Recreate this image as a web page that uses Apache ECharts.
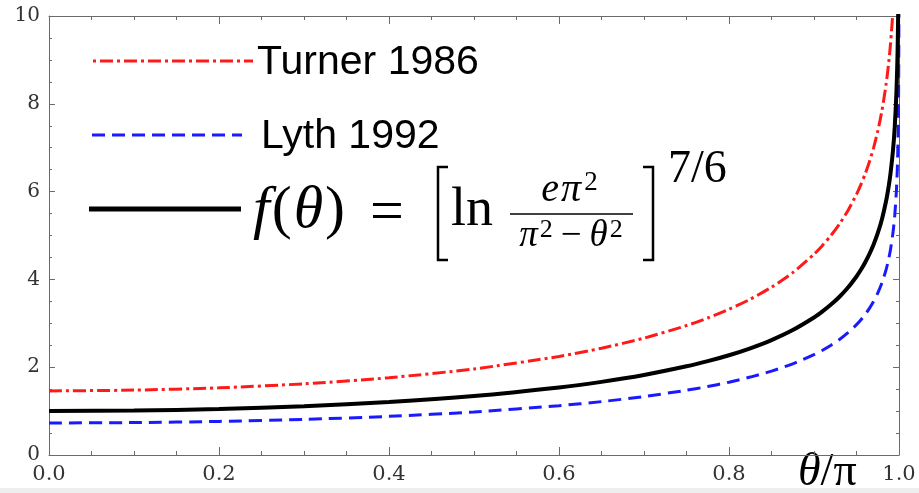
<!DOCTYPE html>
<html><head><meta charset="utf-8">
<script src="https://cdn.jsdelivr.net/npm/echarts@6/dist/echarts.min.js"></script>
<style>html,body{margin:0;padding:0;background:#fff}#c{width:919px;height:493px}</style>
</head><body><div id="c"></div>
<script>
// theta/pi sample positions
var xs = [0, 0.1, 0.2, 0.3, 0.4, 0.5, 0.6, 0.65, 0.7, 0.75, 0.775, 0.8, 0.825, 0.85, 0.875, 0.9, 0.91, 0.92, 0.93, 0.94, 0.95, 0.955, 0.96, 0.965, 0.97, 0.975, 0.98, 0.985, 0.988, 0.99, 0.993, 0.995, 0.997, 0.998, 0.9985, 0.999, 0.9995, 0.9998, 0.9999, 0.99995];
// f(theta) black solid
var fTheta = [1.00, 1.012, 1.048, 1.111, 1.206, 1.343, 1.538, 1.666, 1.823, 2.020, 2.138, 2.273, 2.431, 2.618, 2.846, 3.132, 3.270, 3.426, 3.605, 3.815, 4.067, 4.213, 4.379, 4.568, 4.789, 5.052, 5.378, 5.803, 6.137, 6.412, 6.955, 7.475, 8.274, 8.916, 9.376, 10.03, 11.16, 12.69, 13.86, 15.04];
// Turner 1986 red dash-dot
var turner = [1.46, 1.478, 1.530, 1.622, 1.761, 1.961, 2.245, 2.433, 2.662, 2.949, 3.121, 3.319, 3.549, 3.822, 4.155, 4.573, 4.774, 5.002, 5.264, 5.570, 5.938, 6.152, 6.393, 6.669, 6.992, 7.376, 7.852, 8.472, 8.961, 9.362, 10.15, 10.91, 12.08, 13.02, 13.69, 14.64, 16.29, 18.52, 20.24, 21.96];
// Lyth 1992 blue dashed
var lyth = [0.73, 0.739, 0.765, 0.811, 0.880, 0.980, 1.123, 1.216, 1.331, 1.475, 1.560, 1.659, 1.775, 1.911, 2.077, 2.286, 2.387, 2.501, 2.632, 2.785, 2.969, 3.076, 3.197, 3.335, 3.496, 3.688, 3.926, 4.236, 4.480, 4.681, 5.077, 5.457, 6.040, 6.509, 6.844, 7.322, 8.147, 9.260, 10.12, 10.98];
var xTicks = [0, 0.2, 0.4, 0.6, 0.8, 1.0];
var yTicks = [0, 2, 4, 6, 8, 10];

function pairs(ys){ return xs.map(function(x,i){ return [x, ys[i]]; }); }

var chart = echarts.init(document.getElementById('c'), null, {renderer:'canvas'});
var axisCol = '#6a6a6a';
function xAx(pos, labels){
  return {type:'value', position:pos, min:xTicks[0], max:xTicks[xTicks.length-1], interval:0.2,
    axisLine:{show:true, onZero:false, lineStyle:{color:axisCol, width:1}},
    axisTick:{show:true, inside:true, length:8, lineStyle:{color:axisCol}},
    minorTick:{show:true, splitNumber:4, length:4, lineStyle:{color:axisCol}},
    splitLine:{show:false}, minorSplitLine:{show:false},
    axisLabel:{show:labels, margin:9, color:'#333', fontFamily:'DejaVu Serif', fontSize:21,
      formatter:function(v){ return v.toFixed(1); }}};
}
function yAx(pos, labels){
  return {type:'value', position:pos, min:yTicks[0], max:yTicks[yTicks.length-1], interval:2,
    axisLine:{show:true, onZero:false, lineStyle:{color:axisCol, width:1}},
    axisTick:{show:true, inside:true, length:6, lineStyle:{color:axisCol}},
    minorTick:{show:true, splitNumber:4, length:3, lineStyle:{color:axisCol}},
    splitLine:{show:false}, minorSplitLine:{show:false},
    axisLabel:{show:labels, margin:9, color:'#333', fontFamily:'DejaVu Serif', fontSize:20}};
}
var serif = 'Liberation Serif';
var option = {
  animation:false,
  backgroundColor:'#ffffff',
  grid:{left:49, right:20, top:16, bottom:38, containLabel:false},
  xAxis:[xAx('bottom', true), xAx('top', false)],
  yAxis:[yAx('left', true), yAx('right', false)],
  series:[
    {name:'Turner 1986', type:'line', data:pairs(turner), showSymbol:false, clip:true, z:2,
      smooth:0.25,
      lineStyle:{color:'#ff1a1a', width:3, type:[13,4,3,4]}},
    {name:'Lyth 1992', type:'line', data:pairs(lyth), showSymbol:false, clip:true, z:2,
      smooth:0.25,
      lineStyle:{color:'#1a1aff', width:3, type:[13,7]}},
    {name:'f', type:'line', data:pairs(fTheta), showSymbol:false, clip:true, z:3,
      smooth:0.25,
      lineStyle:{color:'#000000', width:4}}
  ],
  graphic:[
    {type:'rect', left:0, top:488, shape:{width:919, height:5}, style:{fill:'#eeeeee'}, z:-1},
    // legend samples
    {type:'line', shape:{x1:93, y1:61, x2:253, y2:61}, style:{stroke:'#ff1a1a', lineWidth:3, lineDash:[3,4,13,4]}},
    {type:'line', shape:{x1:92, y1:135, x2:242, y2:135}, style:{stroke:'#1a1aff', lineWidth:3, lineDash:[13,7]}},
    {type:'line', shape:{x1:89, y1:209, x2:241, y2:209}, style:{stroke:'#000', lineWidth:5}},
    {type:'text', x:257, y:63, style:{text:'Turner 1986', font:'41px "Liberation Sans"', fill:'#000', textVerticalAlign:'middle'}},
    {type:'text', x:261, y:137, style:{text:'Lyth 1992', font:'41px "Liberation Sans"', fill:'#000', textVerticalAlign:'middle'}},
    // formula
    {type:'text', x:253, y:211, style:{
      rich:{i:{fontFamily:serif, fontStyle:'italic', fontSize:60, fill:'#000'}, u:{fontFamily:serif, fontSize:60, fill:'#000', padding:[0,2,0,2]}},
      text:'{i|f}{u|(}{i|θ}{u|)}', textVerticalAlign:'middle'}},
    {type:'text', x:370, y:214, style:{text:'=', font:'60px "Liberation Serif"', fill:'#000', textVerticalAlign:'middle'}},
    {type:'polyline', shape:{points:[[448,167],[438,167],[438,260],[448,260]]}, style:{stroke:'#000', lineWidth:2.5, fill:null}},
    {type:'text', x:451, y:211, style:{text:'ln', font:'54px "Liberation Serif"', fill:'#000', textVerticalAlign:'middle'}},
    {type:'text', x:569, y:190, style:{
      rich:{i:{fontFamily:serif, fontStyle:'italic', fontSize:40, fill:'#000', padding:[0,1,0,1]}, s:{fontFamily:serif, fontSize:27, fill:'#000', padding:[0,0,14,2]}},
      text:'{i|e}{i|π}{s|2}', textAlign:'center', textVerticalAlign:'middle'}},
    {type:'line', shape:{x1:510, y1:214, x2:633, y2:214}, style:{stroke:'#000', lineWidth:1.6}},
    {type:'text', x:571, y:236, style:{
      rich:{i:{fontFamily:serif, fontStyle:'italic', fontSize:37, fill:'#000'}, u:{fontFamily:serif, fontSize:37, fill:'#000', padding:[0,8,0,8]}, s:{fontFamily:serif, fontSize:26, fill:'#000', padding:[0,0,12,2]}},
      text:'{i|π}{s|2}{u|−}{i|θ}{s|2}', textAlign:'center', textVerticalAlign:'middle'}},
    {type:'polyline', shape:{points:[[643,167],[653,167],[653,260],[643,260]]}, style:{stroke:'#000', lineWidth:2.5, fill:null}},
    {type:'text', x:668, y:170, style:{text:'7/6', font:'46px "Liberation Serif"', fill:'#000', textVerticalAlign:'middle'}},
    // x axis name
    {type:'text', x:798, y:473, style:{
      rich:{i:{fontFamily:serif, fontStyle:'italic', fontSize:46, fill:'#000'}, u:{fontFamily:serif, fontSize:46, fill:'#000'}},
      text:'{i|θ}{u|/π}', textVerticalAlign:'middle'}}
  ]
};
chart.setOption(option);
</script></body></html>
